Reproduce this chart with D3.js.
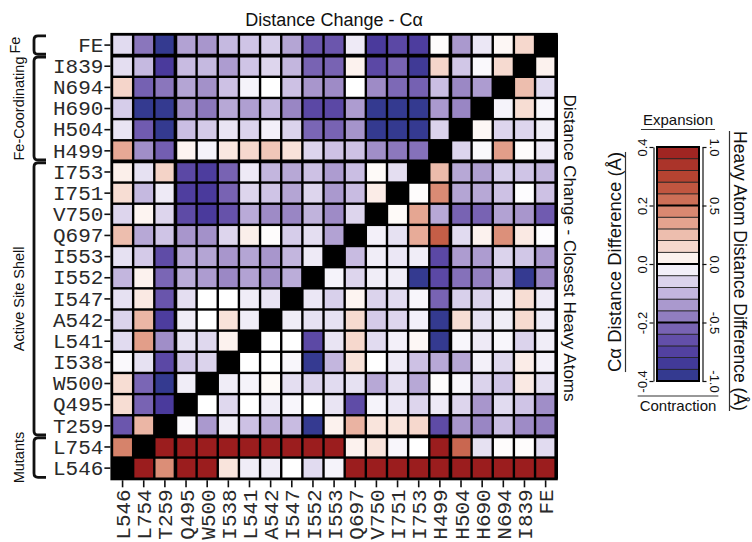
<!DOCTYPE html>
<html>
<head>
<meta charset="utf-8">
<script src="https://cdn.jsdelivr.net/npm/d3@7"></script>
<style>
  body { margin: 0; background: #fff; }
  svg { display: block; }
  text { font-family: "Liberation Sans", Arial, Helvetica, sans-serif; fill: #111; }
  .res text { font-family: "Liberation Mono", "Courier New", monospace; font-size: 21px; fill: #2a2a2a; }
</style>
</head>
<body>
<svg id="chart" width="752" height="542"></svg>
<script>
// Residues in column order (left to right); rows run in the reverse order (top to bottom).
const residues = ["L546", "L754", "T259", "Q495", "W500", "I538", "L541", "A542", "I547", "I552",
  "I553", "Q697", "V750", "I751", "I753", "H499", "H504", "H690", "N694", "I839", "FE"];

// Row groups, listed top to bottom.
const groupNames = ["Fe", "Fe-Coordinating", "Active Site Shell", "Mutants"];
const groupFirstRow = ["FE", "I839", "I753", "L754"];
const groupLastRow = ["FE", "H499", "T259", "L546"];

// C-alpha distance difference (Å), upper-left triangle: row i holds columns 0 .. 19-i.
const caDiff = [
  [-0.048, -0.192, -0.38, -0.128, -0.144, -0.096, -0.08, -0.068, -0.124, -0.24, -0.24, -0.028, -0.32, -0.28, -0.312, 0.004, -0.14, -0.032, 0.012, 0.06],
  [-0.044, -0.096, -0.32, -0.092, -0.096, -0.136, -0.08, -0.056, -0.1, -0.22, -0.22, 0.02, -0.28, -0.22, -0.348, 0.064, -0.076, -0.008, 0.056],
  [0.064, -0.224, -0.192, -0.124, -0.152, -0.084, -0.016, 0.0, -0.084, -0.144, -0.16, 0.0, -0.16, -0.212, -0.224, -0.088, -0.164, -0.136],
  [-0.068, -0.38, -0.38, -0.152, -0.188, -0.12, -0.132, -0.096, -0.168, -0.28, -0.28, -0.136, -0.38, -0.38, -0.38, -0.14, -0.168],
  [-0.036, -0.232, -0.38, -0.088, -0.072, -0.036, -0.06, -0.02, -0.06, -0.216, -0.22, -0.148, -0.38, -0.38, -0.376, -0.06],
  [0.132, -0.156, -0.228, 0.016, -0.016, 0.036, 0.06, 0.088, 0.044, -0.056, -0.084, -0.084, -0.156, -0.188, -0.2],
  [0.024, -0.04, 0.068, -0.28, -0.312, -0.22, -0.028, -0.1, -0.12, -0.084, -0.136, -0.088, 0.008, -0.044],
  [0.052, -0.096, -0.028, -0.308, -0.32, -0.22, -0.056, -0.08, -0.124, -0.056, -0.14, -0.092, 0.028],
  [-0.056, 0.016, -0.056, -0.272, -0.32, -0.252, -0.116, -0.16, -0.168, -0.104, -0.16, -0.056],
  [0.1, -0.12, -0.08, -0.144, -0.152, -0.056, 0.024, 0.004, -0.068, -0.044, -0.128],
  [-0.04, -0.072, -0.268, -0.116, -0.124, -0.144, -0.124, -0.144, -0.1, -0.028],
  [-0.1, 0.02, -0.216, -0.112, -0.136, -0.164, -0.128, -0.152, -0.112],
  [-0.04, 0.032, -0.244, -0.044, 0.0, 0.0, -0.024, -0.036],
  [-0.06, 0.112, -0.312, -0.024, 0.0, 0.044, -0.024],
  [-0.048, 0.148, -0.156, -0.04, -0.052, 0.02],
  [-0.008, -0.04, -0.28, -0.076, -0.06],
  [0.052, -0.216, -0.38, -0.024],
  [0.052, -0.22, -0.32],
  [-0.24, 0.112],
  [0.188],
  []
];

// Closest heavy-atom distance difference (Å), lower-right triangle: row i holds columns 21-i .. 20.
const heavyDiff = [
  [],
  [0.05],
  [0.25, -0.12],
  [-0.04, 0.13, -0.03],
  [0.03, -0.14, -0.14, -0.06],
  [-0.14, -0.02, 0.37, 0.01, -0.07],
  [0.26, -0.3, -0.33, -0.17, -0.2, -0.25],
  [0.01, 0.44, -0.31, -0.3, -0.21, -0.01, -0.21],
  [0.02, 0.34, -0.3, -0.55, -0.55, -0.32, -0.36, -0.58],
  [-0.05, -0.1, 0.32, 0.62, -0.12, 0.05, 0.42, 0.08, -0.01],
  [-0.23, -0.06, -0.08, -0.06, -0.7, -0.34, -0.34, -0.15, -0.19, -0.34],
  [-0.04, -0.14, -0.06, -0.06, -0.95, -0.7, -0.5, -0.44, -0.23, -0.94, -0.41],
  [-0.08, -0.16, 0.04, -0.15, -0.12, -0.03, -0.55, -0.16, -0.15, -0.06, 0.13, -0.07],
  [-0.06, -0.1, -0.1, 0.14, -0.18, -0.14, -0.05, -0.95, 0.13, -0.1, -0.06, 0.14, -0.07],
  [0.0, 0.0, -0.69, -0.09, 0.15, -0.12, -0.05, 0.03, -0.95, -0.03, -0.07, -0.03, -0.15, -0.06],
  [0.0, 0.0, -0.03, -0.94, -0.25, 0.11, 0.0, -0.07, -0.21, -0.3, -0.3, -0.05, -0.13, 0.07, -0.05],
  [-0.06, -0.04, 0.02, -0.11, -0.15, -0.12, -0.1, -0.3, -0.11, -0.3, 0.01, -0.03, -0.15, -0.2, 0.08, -0.11],
  [0.0, -0.13, 0.0, -0.06, -0.03, 0.0, -0.09, -0.67, -0.04, -0.08, -0.14, -0.07, -0.14, -0.36, -0.12, -0.2, -0.39],
  [-0.02, -0.35, -0.06, -0.21, -0.28, -0.23, -0.94, 0.05, 0.29, 0.1, 0.1, 0.15, -0.68, -0.36, -0.42, -0.22, -0.4, -0.44],
  [1.0, 1.0, 1.0, 1.0, 1.0, 1.0, 1.0, 1.0, 1.0, 0.05, 0.1, -0.03, 0.0, 1.0, 0.58, -0.1, 0.01, 0.01, -0.12],
  [1.0, 0.43, 1.0, 1.0, 0.1, -0.06, -0.06, 0.0, -0.12, -0.04, 1.0, 1.0, 1.0, 1.0, 1.0, 1.0, 1.0, 1.0, 1.0, 1.0]
];

// Colour bar ticks for the two scales.
const caMax = 0.4, heavyMax = 1.0;
const caTicks = [-0.4, -0.2, 0.0, 0.2, 0.4];
const heavyTicks = [-1.0, -0.5, 0.0, 0.5, 1.0];

// Diverging palette: contraction (blue-purple) -> white -> expansion (red),
// stops given as fractions of the full scale.
const stopFrac = [-1, -0.8, -0.6, -0.4, -0.2, -0.1, 0, 0.1, 0.2, 0.35, 0.5, 0.7, 1];
const stopColors = ["#2c3a8c", "#4a3a9c", "#6b56ad", "#9e8bc6", "#cfc4e6", "#e6e1f2", "#ffffff",
  "#f9e4dc", "#f2cbbe", "#e4a38f", "#d37b62", "#bb4a35", "#9b1d1e"];
const caColor = d3.scaleLinear().domain(stopFrac.map(f => f * caMax)).range(stopColors).clamp(true);
const heavyColor = d3.scaleLinear().domain(stopFrac.map(f => f * heavyMax)).range(stopColors).clamp(true);

const svg = d3.select("#chart");
const N = residues.length;
const rows = residues.slice().reverse();

const gx0 = 112, gx1 = 556.2, gy0 = 34.5, gy1 = 478.7;
const x = d3.scaleBand().domain(residues).range([gx0, gx1]);
const y = d3.scaleBand().domain(rows).range([gy0, gy1]);
const bw = x.bandwidth(), bh = y.bandwidth();

// Cell table built from the two triangles.
const cells = [];
rows.forEach((r, i) => residues.forEach((c, j) => {
  if (i + j < N - 1) cells.push({ r, c, kind: "ca", v: caDiff[i][j] });
  else if (i + j === N - 1) cells.push({ r, c, kind: "self", v: null });
  else cells.push({ r, c, kind: "heavy", v: heavyDiff[i][j - (N - i)] });
}));

// Black frame behind the matrix forms the grid lines.
svg.append("rect")
  .attr("x", gx0 - 1.6).attr("y", gy0 - 1.6)
  .attr("width", gx1 - gx0 + 3.2).attr("height", gy1 - gy0 + 3.2)
  .attr("fill", "#000");

svg.append("g").selectAll("rect").data(cells).join("rect")
  .attr("x", d => x(d.c) + 1.2)
  .attr("y", d => y(d.r) + 1.2)
  .attr("width", bw - 2.4)
  .attr("height", bh - 2.4)
  .attr("fill", d => d.kind === "self" ? "#000" : (d.kind === "ca" ? caColor(d.v) : heavyColor(d.v)));

// Heavier separators between residue groups.
const sep = svg.append("g").attr("stroke", "#000").attr("stroke-width", 3.6);
groupFirstRow.slice(1).forEach(name => {
  sep.append("line").attr("x1", gx0).attr("x2", gx1).attr("y1", y(name)).attr("y2", y(name));
});
groupLastRow.slice(0, -1).forEach(name => {
  const xv = x(name) + bw;
  sep.append("line").attr("y1", gy0).attr("y2", gy1).attr("x1", xv).attr("x2", xv);
});

// Residue axes.
const yAxis = svg.append("g").attr("class", "res")
  .attr("transform", `translate(${gx0 - 1.6},0)`)
  .call(d3.axisLeft(y).tickSize(6).tickPadding(1).tickSizeOuter(0));
yAxis.select(".domain").remove();
yAxis.selectAll(".tick line").attr("stroke", "#111").attr("stroke-width", 1.6);

const xAxis = svg.append("g").attr("class", "res")
  .attr("transform", `translate(0,${gy1 + 1.6})`)
  .call(d3.axisBottom(x).tickSize(7).tickPadding(1).tickSizeOuter(0));
xAxis.select(".domain").remove();
xAxis.selectAll(".tick line").attr("stroke", "#111").attr("stroke-width", 1.6);
xAxis.selectAll(".tick text")
  .attr("transform", "rotate(-90)")
  .attr("text-anchor", "end")
  .attr("x", -9).attr("y", 0).attr("dy", "0.36em");

// Titles for the two triangles.
svg.append("text").attr("x", (gx0 + gx1) / 2).attr("y", 26)
  .attr("text-anchor", "middle").attr("font-size", 18)
  .text("Distance Change - Cα");
svg.append("text")
  .attr("transform", "translate(564,248) rotate(90)")
  .attr("text-anchor", "middle").attr("font-size", 17)
  .text("Distance Change - Closest Heavy Atoms");

// Group brackets and labels on the left.
const bx0 = 34, bxEnd = 46, br = 4;
const brackets = svg.append("g");
groupNames.forEach((name, k) => {
  const top = y(groupFirstRow[k]) + 1.4;
  const bot = y(groupLastRow[k]) + bh - 1.4;
  brackets.append("path")
    .attr("d", `M${bxEnd},${top} H${bx0 + br} Q${bx0},${top} ${bx0},${top + br} V${bot - br} Q${bx0},${bot} ${bx0 + br},${bot} H${bxEnd}`)
    .attr("fill", "none").attr("stroke", "#111").attr("stroke-width", 2.8);
  brackets.append("text")
    .attr("transform", `translate(${k === 0 ? 20 : 24},${(top + bot) / 2}) rotate(-90)`)
    .attr("text-anchor", "middle").attr("font-size", 14.5)
    .text(name);
});

// Colour bar.
const lx = 657, lw = 42, lTop = 147, lBot = 381;
const lScaleHeavy = d3.scaleLinear().domain([-heavyMax, heavyMax]).range([lBot, lTop]);
const lScaleCa = d3.scaleLinear().domain([-caMax, caMax]).range([lBot, lTop]);
const bandEdges = d3.range(0, 21).map(k => -heavyMax + k * heavyMax / 10);
const bands = d3.pairs(bandEdges);
const legend = svg.append("g");
legend.selectAll("rect.band").data(bands).join("rect").attr("class", "band")
  .attr("x", lx).attr("width", lw)
  .attr("y", d => lScaleHeavy(d[1]))
  .attr("height", d => lScaleHeavy(d[0]) - lScaleHeavy(d[1]))
  .attr("fill", d => heavyColor((d[0] + d[1]) / 2))
  .attr("stroke", "#222").attr("stroke-width", 0.8);
legend.selectAll("line.major").data(heavyTicks.slice(1, -1)).join("line").attr("class", "major")
  .attr("x1", lx).attr("x2", lx + lw)
  .attr("y1", d => lScaleHeavy(d)).attr("y2", d => lScaleHeavy(d))
  .attr("stroke", "#000").attr("stroke-width", 1.8);
legend.append("rect").attr("x", lx).attr("y", lTop).attr("width", lw).attr("height", lBot - lTop)
  .attr("fill", "none").attr("stroke", "#000").attr("stroke-width", 2);

const fmt = v => v.toFixed(1);
const caAxis = legend.append("g").attr("transform", `translate(${lx - 3.5},0)`)
  .call(d3.axisLeft(lScaleCa).tickValues(caTicks).tickFormat(fmt).tickSize(4).tickSizeOuter(0));
caAxis.selectAll(".tick text")
  .attr("transform", "rotate(-90)").attr("text-anchor", "middle")
  .attr("x", 0).attr("y", -7).attr("dy", 0).attr("font-size", 13)
  .style("font-family", "'Liberation Sans', Arial, sans-serif");
const heavyAxis = legend.append("g").attr("transform", `translate(${lx + lw + 3.5},0)`)
  .call(d3.axisRight(lScaleHeavy).tickValues(heavyTicks).tickFormat(fmt).tickSize(4).tickSizeOuter(0));
heavyAxis.selectAll(".tick text")
  .attr("transform", "rotate(90)").attr("text-anchor", "middle")
  .attr("x", 0).attr("y", -7).attr("dy", 0).attr("font-size", 13)
  .style("font-family", "'Liberation Sans', Arial, sans-serif");
legend.selectAll(".domain, .tick line").attr("stroke", "#111").attr("stroke-width", 1.2);

// Legend captions with their rules.
const cx = lx + lw / 2;
const exp = legend.append("text").attr("x", cx).attr("y", 125)
  .attr("text-anchor", "middle").attr("font-size", 15).text("Expansion");
const expW = exp.node().getComputedTextLength();
legend.append("line").attr("x1", cx - expW / 2 - 2).attr("x2", cx + expW / 2 + 2)
  .attr("y1", 129.5).attr("y2", 129.5).attr("stroke", "#333").attr("stroke-width", 1.2);

const con = legend.append("text").attr("x", cx).attr("y", 411)
  .attr("text-anchor", "middle").attr("font-size", 15).text("Contraction");
const conW = con.node().getComputedTextLength();
legend.append("line").attr("x1", cx - conW / 2 - 2).attr("x2", cx + conW / 2 + 2)
  .attr("y1", 396).attr("y2", 396).attr("stroke", "#333").attr("stroke-width", 1.2);

const caTitle = legend.append("text")
  .attr("transform", "translate(621,262) rotate(-90)")
  .attr("text-anchor", "middle").attr("font-size", 18.5).text("Cα Distance Difference (Å)");
const caTW = caTitle.node().getComputedTextLength();
legend.append("line").attr("x1", 625.5).attr("x2", 625.5)
  .attr("y1", 262 - caTW / 2).attr("y2", 262 + caTW / 2)
  .attr("stroke", "#333").attr("stroke-width", 1.2);

const hvTitle = legend.append("text")
  .attr("transform", "translate(734,271) rotate(90)")
  .attr("text-anchor", "middle").attr("font-size", 17.5).text("Heavy Atom Distance Difference (Å)");
const hvTW = hvTitle.node().getComputedTextLength();
legend.append("line").attr("x1", 729.5).attr("x2", 729.5)
  .attr("y1", 271 - hvTW / 2).attr("y2", 271 + hvTW / 2)
  .attr("stroke", "#333").attr("stroke-width", 1.2);
</script>
</body>
</html>
